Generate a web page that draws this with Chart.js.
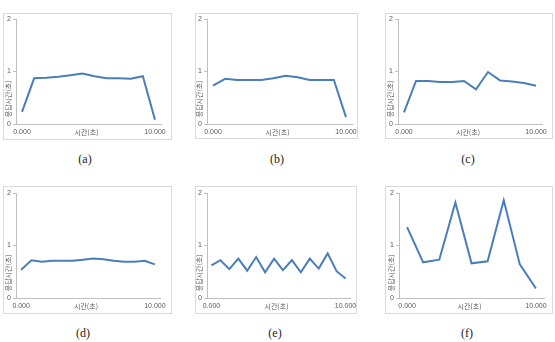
<!DOCTYPE html>
<html>
<head>
<meta charset="utf-8">
<script src="https://cdn.jsdelivr.net/npm/chart.js@4.4.1/dist/chart.umd.min.js"></script>
<style>
  body { margin: 0; background: #fff; width: 555px; height: 342px; position: relative; overflow: hidden; }
  .box { position: absolute; border: 1px solid #d9d9d9; box-sizing: border-box; background: #fff; }
  .box canvas { display: block; }
  .cap { position: absolute; width: 40px; text-align: center; font: 12px "Liberation Serif", serif; color: #222; }
</style>
</head>
<body>
<div id="wrap"></div>
<script>
// time stamps (s) for each run
var times12 = ['0.000','0.909','1.818','2.727','3.636','4.545','5.455','6.364','7.273','8.182','9.091','10.000'];
var times14 = ['0.000','0.769','1.538','2.308','3.077','3.846','4.615','5.385','6.154','6.923','7.692','8.462','9.231','10.000'];
var times16 = ['0.000','0.667','1.333','2.000','2.667','3.333','4.000','4.667','5.333','6.000','6.667','7.333','8.000','8.667','9.333','10.000'];
var times9 = ['0.000','1.250','2.500','3.750','5.000','6.250','7.500','8.750','10.000'];

// values
var valuesA = [0.23, 0.87, 0.88, 0.90, 0.93, 0.96, 0.91, 0.87, 0.87, 0.86, 0.91, 0.08];
var valuesB = [0.73, 0.86, 0.84, 0.84, 0.84, 0.87, 0.92, 0.89, 0.84, 0.84, 0.84, 0.13];
var valuesC = [0.22, 0.82, 0.82, 0.80, 0.80, 0.82, 0.66, 0.99, 0.83, 0.81, 0.78, 0.73];
var valuesD = [0.54, 0.72, 0.69, 0.71, 0.71, 0.71, 0.73, 0.75, 0.74, 0.71, 0.69, 0.69, 0.71, 0.64];
var valuesE = [0.62, 0.72, 0.55, 0.75, 0.52, 0.78, 0.49, 0.75, 0.53, 0.72, 0.49, 0.75, 0.56, 0.85, 0.51, 0.37];
var valuesF = [1.35, 0.68, 0.73, 1.82, 0.66, 0.70, 1.86, 0.64, 0.18];

var yTicks = [0, 1, 2];
var xTitle = '시간(초)';
var yTitle = '응답시간(초)';
var captions = ['(a)', '(b)', '(c)', '(d)', '(e)', '(f)'];

// panel boxes: x, y, w, h and inner chart-area margins (left, top, right, bottom)
var panels = [
  { labels: times12, data: valuesA, x: 3,   y: 13,  w: 169, h: 127, l: 12, t: 5, r: 10, b: 15, cx: 65,  cy: 152 },
  { labels: times12, data: valuesB, x: 195, y: 13,  w: 163, h: 126, l: 11, t: 5, r: 5,  b: 14, cx: 257, cy: 152 },
  { labels: times12, data: valuesC, x: 385, y: 13,  w: 168, h: 126, l: 12, t: 5, r: 10, b: 14, cx: 448, cy: 152 },
  { labels: times14, data: valuesD, x: 3,   y: 186, w: 169, h: 128, l: 12, t: 6, r: 11, b: 15, cx: 63,  cy: 326 },
  { labels: times16, data: valuesE, x: 195, y: 186, w: 162, h: 128, l: 11, t: 6, r: 6,  b: 15, cx: 255, cy: 326 },
  { labels: times9,  data: valuesF, x: 385, y: 186, w: 168, h: 128, l: 13, t: 6, r: 8,  b: 15, cx: 447, cy: 326 }
];

// draws the axis titles inside the tick label row / column, like the source sheet
var axisTitles = {
  id: 'axisTitles',
  afterDraw: function(chart) {
    var ctx = chart.ctx, area = chart.chartArea;
    var xs = chart.scales.x, ys = chart.scales.y;
    ctx.save();
    ctx.fillStyle = '#595959';
    ctx.font = '7px "Noto Sans CJK KR", sans-serif';
    ctx.textAlign = 'center';
    ctx.textBaseline = 'middle';
    ctx.fillText(xTitle, (area.left + area.right) / 2 - 2, xs.top + 8);
    ctx.translate(area.left - 8, ys.getPixelForValue(0.48));
    ctx.rotate(-Math.PI / 2);
    ctx.fillText(yTitle, 0, 0);
    ctx.restore();
  }
};

var wrap = document.getElementById('wrap');

panels.forEach(function(p, i) {
  var box = document.createElement('div');
  box.className = 'box';
  box.style.left = p.x + 'px';
  box.style.top = p.y + 'px';
  box.style.width = p.w + 'px';
  box.style.height = p.h + 'px';
  var cv = document.createElement('canvas');
  cv.width = p.w - 2;
  cv.height = p.h - 2;
  box.appendChild(cv);
  wrap.appendChild(box);

  var cap = document.createElement('div');
  cap.className = 'cap';
  cap.style.left = p.cx + 'px';
  cap.style.top = p.cy + 'px';
  cap.textContent = captions[i];
  wrap.appendChild(cap);

  new Chart(cv, {
    type: 'line',
    data: {
      labels: p.labels,
      datasets: [{
        data: p.data,
        borderColor: '#4a7ebb',
        borderWidth: 2,
        pointRadius: 0,
        tension: 0,
        fill: false
      }]
    },
    options: {
      responsive: false,
      animation: false,
      events: [],
      layout: { padding: { left: 0, top: p.t, right: p.r, bottom: 0 } },
      plugins: { legend: { display: false }, tooltip: { enabled: false } },
      scales: {
        x: {
          type: 'category',
          offset: true,
          grid: { display: false, drawTicks: false },
          border: { display: true, color: '#bfbfbf', width: 1 },
          ticks: {
            autoSkip: false,
            maxRotation: 0,
            padding: 4,
            color: '#595959',
            font: { size: 7, family: 'Liberation Sans' },
            callback: function(v, idx, ticks) {
              return (idx === 0 || idx === ticks.length - 1) ? this.getLabelForValue(v) : '';
            }
          },
          afterFit: function(s) { s.height = p.b; s.paddingLeft = 0; s.paddingRight = 0; }
        },
        y: {
          min: 0,
          max: 2,
          afterBuildTicks: function(s) { s.ticks = yTicks.map(function(v) { return { value: v }; }); },
          grid: { display: true, drawOnChartArea: false, drawTicks: true, tickLength: 3, color: '#bfbfbf' },
          border: { display: true, color: '#bfbfbf', width: 1 },
          ticks: {
            padding: 2,
            color: '#595959',
            font: { size: 7, family: 'Liberation Sans' }
          },
          afterFit: function(s) { s.width = p.l; s.paddingTop = 0; s.paddingBottom = 0; }
        }
      }
    },
    plugins: [axisTitles]
  });
});
</script>
</body>
</html>
